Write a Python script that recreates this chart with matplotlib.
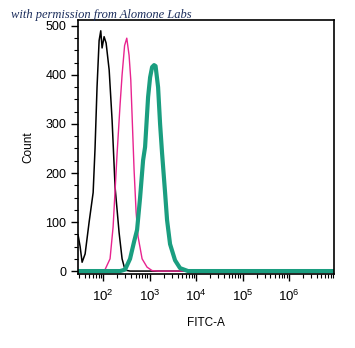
import numpy as np
import matplotlib
matplotlib.use("Agg")
import matplotlib.pyplot as plt
from matplotlib.ticker import LogLocator, MultipleLocator

plt.rcParams['font.family'] = ['Liberation Sans', 'DejaVu Sans']

# isotype / unstained (black)
black_x = [29, 32, 35.3, 41, 50, 61, 67, 74, 82, 89, 95, 105, 116, 135, 156, 181, 221, 256, 297, 380, 1e7]
black_y = [73, 50, 18, 35, 100, 160, 250, 375, 470, 490, 455, 478, 465, 410, 308, 171, 78, 25, 2, 0, 0]

# pink
pink_x = [86, 110, 141, 164, 200, 232, 256, 290, 323, 362, 394, 464, 513, 566, 690, 883, 1132, 1530, 1e7]
pink_y = [0, 3, 25, 90, 240, 340, 400, 460, 475, 440, 390, 206, 120, 70, 25, 8, 1, 0, 0]

# green (stained)
green_x = [29, 232, 297, 380, 464, 538, 625, 725, 800, 929, 1026, 1133, 1250, 1346, 1524,
           1683, 1858, 2155, 2378, 2758, 3532, 4527, 6730, 1e7]
green_y = [0, 0, 3, 25, 60, 84, 150, 226, 253, 355, 395, 416, 420, 418, 375,
           300, 240, 160, 104, 55, 22, 6, 0, 0]

x_ticks = [1e2, 1e3, 1e4, 1e5, 1e6]
x_ticklabels = [r'$\mathregular{10^{2}}$', r'$\mathregular{10^{3}}$', r'$\mathregular{10^{4}}$',
                r'$\mathregular{10^{5}}$', r'$\mathregular{10^{6}}$']

fig = plt.figure(figsize=(3.55, 3.48), dpi=100)
ax = fig.add_axes([0.2197, 0.2126, 0.7211, 0.7299])

ax.plot(black_x, black_y, color='black', lw=1.1)
ax.plot(pink_x, pink_y, color='#e8238f', lw=1.0)
ax.plot(green_x, green_y, color='#1a9e80', lw=3.0, solid_joinstyle='round')

ax.set_xscale('log')
ax.set_xlim(28.8, 9.3e6)
ax.set_ylim(-6, 512)

ax.set_xticks(x_ticks)
ax.set_xticklabels(x_ticklabels, fontsize=9.5)
ax.xaxis.set_minor_locator(LogLocator(base=10, subs=np.arange(2, 10), numticks=20))
ax.set_yticks([0, 100, 200, 300, 400, 500])
ax.yaxis.set_minor_locator(MultipleLocator(25))
ax.tick_params(axis='both', which='major', direction='out', length=5, width=1, labelsize=9)
ax.tick_params(axis='both', which='minor', direction='out', length=3, width=0.8)
ax.tick_params(axis='x', which='major', pad=6, labelsize=9.5)

for s in ax.spines.values():
    s.set_linewidth(1.2)

ax.set_ylabel('Count', fontsize=8.5, labelpad=8)
ax.set_xlabel('FITC-A', fontsize=8.5, labelpad=9)

fig.text(0.03, 0.948, 'with permission from Alomone Labs', fontsize=9, style='italic',
         family='Liberation Serif', color='#1b2d5c')

fig.savefig('out.png', dpi=100)
